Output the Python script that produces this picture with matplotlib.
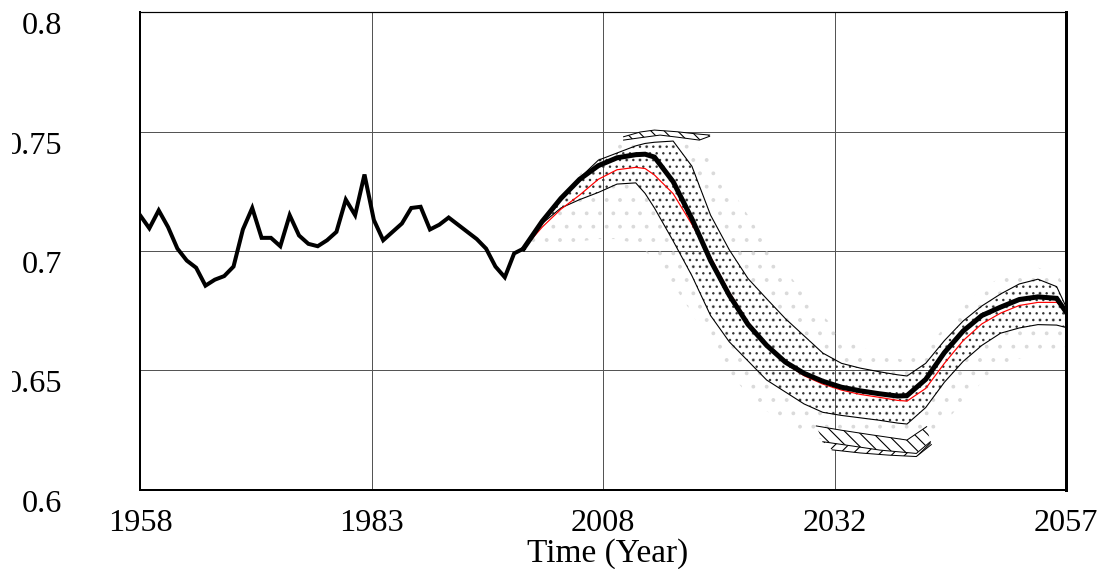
import numpy as np
import matplotlib
matplotlib.use("Agg")
import matplotlib.pyplot as plt
from matplotlib.transforms import Bbox

# historical data (annual)
hist_years = list(range(1958, 2000))
hist_vals = [0.715, 0.7095, 0.717, 0.710, 0.701, 0.696, 0.693, 0.6855, 0.688, 0.6895,
             0.6935, 0.709, 0.718, 0.7055, 0.7055, 0.702, 0.715, 0.7065, 0.703, 0.702,
             0.7045, 0.708, 0.7215, 0.715, 0.732, 0.713, 0.7045, 0.708, 0.7115, 0.718,
             0.7185, 0.709, 0.711, 0.714, 0.711, 0.708, 0.705, 0.701, 0.6935, 0.689,
             0.699, 0.701]

# simulation runs
sim_years = [1999, 2001, 2003, 2005, 2007, 2009, 2011, 2012, 2013, 2015, 2017, 2019,
             2021, 2023, 2025, 2027, 2029, 2031, 2033, 2035, 2037, 2039, 2040, 2042,
             2044, 2046, 2048, 2050, 2052, 2054, 2056, 2057]
base_run = [0.701, 0.7124, 0.722, 0.730, 0.7357, 0.739, 0.7403, 0.7405, 0.7393, 0.729,
            0.7135, 0.696, 0.6815, 0.6693, 0.6605, 0.6535, 0.6488, 0.6455, 0.6430, 0.6415,
            0.6403, 0.6393, 0.6395, 0.6463, 0.6575, 0.6665, 0.673, 0.6765, 0.6797, 0.6808,
            0.6802, 0.6745]
mean_run = [0.701, 0.710, 0.7175, 0.7234, 0.730, 0.734, 0.735, 0.7345, 0.7318, 0.724,
            0.7112, 0.6975, 0.6828, 0.6703, 0.6608, 0.653, 0.6478, 0.6443, 0.6418, 0.640,
            0.6388, 0.6375, 0.6372, 0.6425, 0.653, 0.6625, 0.6695, 0.674, 0.6772, 0.6785,
            0.6785, 0.6752]
band50_hi = [0.701, 0.7128, 0.7222, 0.7305, 0.738, 0.741, 0.744, 0.745, 0.7455, 0.746,
             0.7355, 0.715, 0.7005, 0.6885, 0.680, 0.6717, 0.6645, 0.6573, 0.653, 0.651,
             0.6495, 0.6482, 0.6477, 0.653, 0.6625, 0.6707, 0.677, 0.682, 0.6862, 0.6882,
             0.6851, 0.6767]
band50_lo = [0.701, 0.7115, 0.718, 0.7215, 0.7245, 0.728, 0.7285, 0.7241, 0.718, 0.7042,
             0.6897, 0.673, 0.662, 0.654, 0.646, 0.641, 0.636, 0.6325, 0.6312, 0.6302,
             0.6292, 0.628, 0.6276, 0.6345, 0.6451, 0.6538, 0.6605, 0.6656, 0.6678, 0.6692,
             0.669, 0.668]
band95_hi = [0.701, 0.7135, 0.7235, 0.732, 0.740, 0.745, 0.748, 0.749, 0.7495, 0.749,
             0.746, 0.738, 0.727, 0.715, 0.703, 0.692, 0.682, 0.673, 0.665, 0.660,
             0.657, 0.655, 0.654, 0.659, 0.668, 0.677, 0.684, 0.689, 0.692, 0.693,
             0.691, 0.684]
band95_lo = [0.701, 0.702, 0.703, 0.704, 0.705, 0.705, 0.703, 0.700, 0.696, 0.686,
             0.674, 0.660, 0.649, 0.640, 0.633, 0.628, 0.624, 0.621, 0.619, 0.617,
             0.616, 0.615, 0.615, 0.619, 0.628, 0.637, 0.645, 0.651, 0.655, 0.657,
             0.657, 0.656]

# extreme (100%) hatched pieces
top_a_years = [2009.7, 2011.5, 2013.0, 2015.4, 2017.5, 2018.9]
top_a_vals = [0.7478, 0.7498, 0.7506, 0.7499, 0.7490, 0.7485]
top_b_years = [2018.9, 2017.8, 2015.5, 2013.6, 2011.5, 2009.7]
top_b_vals = [0.7480, 0.7464, 0.7476, 0.7485, 0.7474, 0.7464]

low_a_years = [2030.3, 2033.0, 2036.0, 2040.0, 2042.1]
low_a_vals = [0.6268, 0.6250, 0.6232, 0.6209, 0.6265]
low_b_years = [2031.0, 2034.0, 2037.1, 2041.0, 2042.5]
low_b_vals = [0.6202, 0.6185, 0.6167, 0.6153, 0.6202]
low_c_years = [2032.0, 2035.0, 2038.0, 2041.0, 2042.6]
low_c_vals = [0.6168, 0.6155, 0.6146, 0.6140, 0.6190]

x_ticks = [1958, 1982.75, 2007.5, 2032.25, 2057]
x_labels = ["1958", "1983", "2008", "2032", "2057"]
y_ticks = [0.6, 0.65, 0.7, 0.75, 0.8]
y_labels = ["0.6", "0.65", "0.7", "0.75", "0.8"]

DPI = 80
plt.rcParams["font.family"] = ["Liberation Serif", "DejaVu Serif"]
plt.rcParams["hatch.linewidth"] = 1.0

fig = plt.figure(figsize=(1106 / DPI, 569 / DPI), dpi=DPI)
W, H = 1106, 569
ax = fig.add_axes([140 / W, (H - 490) / H, (1066 - 140) / W, (490 - 12) / H])

px = 72.0 / DPI  # one pixel in points

# sparse outer band
ax.fill_between(sim_years, band95_lo, band95_hi, facecolor="none",
                edgecolor="#dadada", hatch=".", linewidth=0, zorder=2)
# dense inner band
ax.fill_between(sim_years, band50_lo, band50_hi, facecolor="none",
                edgecolor="#333333", hatch="..", linewidth=0, zorder=3)

# hatched extreme pieces
ax.fill(top_a_years + top_b_years, top_a_vals + top_b_vals, facecolor="white",
        edgecolor="black", hatch="\\\\", linewidth=0, zorder=3)
ax.fill(low_a_years + low_b_years[::-1], low_a_vals + low_b_vals[::-1],
        facecolor="white", edgecolor="black", hatch="\\\\", linewidth=0, zorder=3)
ax.fill(low_b_years + low_c_years[::-1], low_b_vals + low_c_vals[::-1],
        facecolor="white", edgecolor="black", hatch="//", linewidth=0, zorder=3)
for xs, ys in [(top_a_years, top_a_vals), (top_b_years, top_b_vals),
               (low_a_years, low_a_vals), (low_b_years, low_b_vals),
               (low_c_years, low_c_vals)]:
    ax.plot(xs, ys, color="black", lw=1 * px, zorder=4)

ax.plot(sim_years, band50_hi, color="black", lw=1.1 * px, zorder=5)
ax.plot(sim_years, band50_lo, color="black", lw=1.1 * px, zorder=5)
ax.plot(sim_years, mean_run, color="#ff0000", lw=1.2 * px, zorder=6)
ax.plot(sim_years, base_run, color="black", lw=5 * px, zorder=7,
        solid_joinstyle="miter")
ax.plot(hist_years, hist_vals, color="black", lw=4 * px, zorder=7,
        solid_joinstyle="miter")

ax.set_xlim(1958, 2057)
ax.set_ylim(0.6, 0.8)
ax.set_xticks(x_ticks)
ax.set_xticklabels(x_labels)
ax.set_yticks(y_ticks)
ax.set_yticklabels(y_labels)
ax.grid(True, color="#555555", lw=1 * px, zorder=1)
ax.tick_params(length=0, labelsize=29)
ax.tick_params(axis="y", pad=78 * px)
ax.tick_params(axis="x", pad=19 * px)

for lab in ax.get_yticklabels():
    lab.set_va("top")
    lab.set_clip_box(Bbox.from_extents(12, 0, W, H))
    lab.set_clip_on(True)

ax.set_xlabel("Time (Year)", fontsize=30)
ax.xaxis.set_label_coords((608 - 140) / (1066 - 140), -(554 - 490) / (490 - 12))
ax.xaxis.label.set_va("center")

ax.spines["left"].set_linewidth(2 * px)
ax.spines["bottom"].set_linewidth(2 * px)
ax.spines["top"].set_linewidth(1.2 * px)
ax.spines["right"].set_linewidth(3 * px)
for s in ax.spines.values():
    s.set_zorder(8)

fig.savefig("out.png", dpi=DPI)
